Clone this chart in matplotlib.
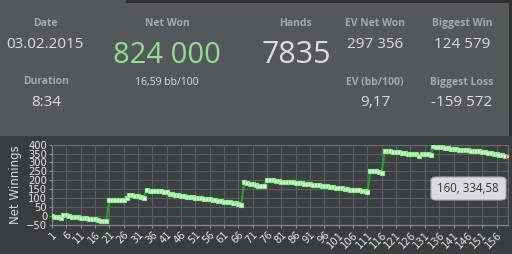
import matplotlib
matplotlib.use("Agg")
import matplotlib.pyplot as plt
from matplotlib.patches import Rectangle, FancyBboxPatch
import numpy as np

# ---- data ----
hands = list(range(1, 161))
net_winnings = [
    # 1-20
    0, -4, -6, -12, 2, 3, -3, -5, -4, -6, -10, -12, -13, -16, -18, -20, -24, -27, -30, -31,
    # 21-33
    90, 88, 88, 88, 88, 90, 100, 116, 116, 114, 110, 108, 102,
    # 34-67
    148, 142, 140, 140, 139, 138, 136, 134, 124, 120, 118, 116, 113, 110, 108, 106, 104,
    102, 100, 98, 96, 94, 92, 91, 88, 86, 84, 80, 78, 76, 72, 70, 68, 60,
    # 68-111
    188, 182, 180, 178, 176, 170, 170, 170, 200, 200, 199, 198, 194, 192, 190, 193,
    190, 188, 186, 185, 183, 181, 179, 177, 175, 173, 171, 169, 167, 165, 162, 160,
    158, 156, 154, 152, 150, 148, 146, 145, 144, 140, 137, 136,
    # 112-116
    253, 250, 250, 249, 243,
    # 117-133
    366, 364, 362, 361, 360, 358, 356, 352, 350, 348, 346, 345, 336, 350, 346, 346, 344,
    # 134-160
    390, 388, 387, 385, 383, 381, 378, 376, 374, 372, 370, 369, 368, 366, 364, 365,
    362, 360, 358, 355, 352, 350, 347, 344, 341, 338, 334.58,
]
y_ticks = [-50, 0, 50, 100, 150, 200, 250, 300, 350, 400]
x_ticks = list(range(1, 160, 5))

stats_left = [("Date", "03.02.2015"), ("Duration", "8:34")]
net_won_label = "Net Won"
net_won_value = "824 000"
net_won_sub = "16,59 bb/100"
hands_label = "Hands"
hands_value = "7835"
stats_right = [("EV Net Won", "297 356"), ("Biggest Win", "124 579"),
               ("EV (bb/100)", "9,17"), ("Biggest Loss", "-159 572")]
tooltip_text = "160, 334,58"

W, H = 512, 254
fig = plt.figure(figsize=(W / 100, H / 100), dpi=100)
fig.patch.set_facecolor("#3a3d40")

def px_rect(x0, y0, w, h, color):
    fig.patches.append(Rectangle((x0 / W, 1 - (y0 + h) / H), w / W, h / H,
                                 transform=fig.transFigure, facecolor=color,
                                 edgecolor="none", zorder=-10))

px_rect(0, 0, W, 136, "#55585b")
px_rect(126, 0, W - 126, 3, "#2d2f31")
px_rect(509, 0, 3, 136, "#2d2f31")
px_rect(0, 136, W, H - 136, "#3a3d40")

def ftext(x, y, s, size, color, weight="normal", family="Open Sans"):
    fig.text(x / W, 1 - y / H, s, ha="center", va="center", fontsize=size,
             color=color, fontweight=weight, family=family)

hdr = "#a7aaac"
val = "#dcdedf"
ftext(45, 23, stats_left[0][0], 7.5, hdr, "bold")
ftext(45, 44, stats_left[0][1], 11, val)
ftext(46, 82, stats_left[1][0], 7.5, hdr, "bold")
ftext(46, 102, stats_left[1][1], 11, val)
ftext(167, 23, net_won_label, 7.5, hdr, "bold")
ftext(167, 55, net_won_value, 21, "#8ee08e")
ftext(167, 83, net_won_sub, 7.5, val)
ftext(296, 23, hands_label, 7.5, hdr, "bold")
ftext(296, 55, hands_value, 22, val)
ftext(375, 23, stats_right[0][0], 7.5, hdr, "bold")
ftext(375, 44, stats_right[0][1], 11, val)
ftext(462, 23, stats_right[1][0], 7.5, hdr, "bold")
ftext(462, 44, stats_right[1][1], 11, val)
ftext(375, 82, stats_right[2][0], 7.5, hdr, "bold")
ftext(375, 102, stats_right[2][1], 11, val)
ftext(462, 82, stats_right[3][0], 7.5, hdr, "bold")
ftext(462, 102, stats_right[3][1], 11, val)

# ---- chart ----
ax = fig.add_axes([52 / W, 1 - 224.7 / H, (508 - 52) / W, (224.7 - 144.7) / H])
ax.set_zorder(5)
ax.set_facecolor("#3d4043")
ax.plot(hands, net_winnings, color="#2f9a34", lw=1.6, zorder=3)
ax.plot(hands[:-1], net_winnings[:-1], ls="none", marker="s", ms=2.6,
        mfc="#e8ffe8", mec="#7df07d", mew=0.8, zorder=4)
ax.plot(hands[-1:], net_winnings[-1:], ls="none", marker="s", ms=2.6,
        mfc="#ffd0d0", mec="#e05050", mew=0.8, zorder=4)
ax.set_xlim(1, 160)
ax.set_ylim(-50, 400)
ax.set_yticks(y_ticks)
ax.set_xticks(x_ticks)
ax.set_xticklabels([str(t) for t in x_ticks], rotation=45, ha="right",
                   rotation_mode="anchor")
ax.tick_params(axis="both", colors="#8a8d90", labelcolor="#e8e8e8",
               labelsize=7.2, length=2.5, width=0.8, pad=1)
ax.grid(True, color="#5c5f62", lw=0.8)
ax.set_axisbelow(True)
for s in ["left", "bottom"]:
    ax.spines[s].set_color("#8a8d90")
for s in ["top", "right"]:
    ax.spines[s].set_color("#6a6d70")
ax.set_ylabel("Net Winnings", color="#dcdedf", fontsize=8.5, labelpad=3)

tip = FancyBboxPatch((431 / W, 1 - 200 / H), 75 / W, 23 / H,
                     boxstyle="round,pad=0,rounding_size=0.012",
                     transform=fig.transFigure, facecolor="#d9dadb",
                     edgecolor="#a8a9aa", lw=0.8, zorder=10)
fig.patches.append(tip)
fig.text(468 / W, 1 - 188.5 / H, tooltip_text, ha="center", va="center",
         fontsize=8.3, color="#333333", family="Open Sans", zorder=11)

fig.savefig("out.png", dpi=100, facecolor=fig.get_facecolor())
